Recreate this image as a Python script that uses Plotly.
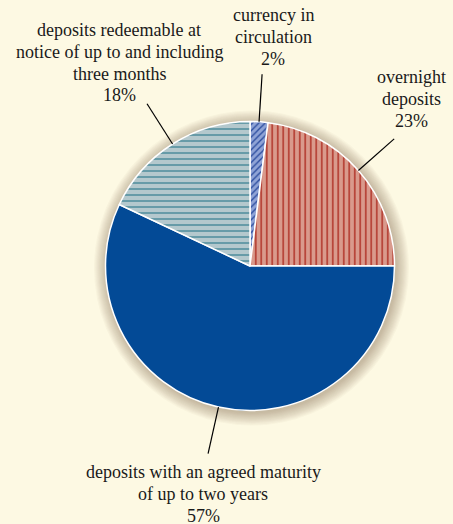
import math
import plotly.graph_objects as go

# ---- data ----
labels = ["currency in circulation", "overnight deposits",
          "deposits with an agreed maturity of up to two years",
          "deposits redeemable at notice of up to and including three months"]
values = [2, 23, 57, 18]
label_lines = [["currency in", "circulation", "2%"],
               ["overnight", "deposits", "23%"],
               ["deposits with an agreed maturity", "of up to two years", "57%"],
               ["deposits redeemable at", "notice of up to and including", "three months", "18%"]]
bg_colors = ["#8FA3D6", "#D99A8C", "#034A96", "#B4C8CD"]
fg_colors = ["#2B4C9E", "#B2362B", "#034A96", "#4D8C9C"]
shapes_pat = ["/", "|", "", "-"]

W, H = 453, 524
CX, CY, R = 250.0, 266.0, 144.5
BG = "#FDF9E3"
FONT = "Liberation Serif"
FS = 18
LINE_H = 21.8

# label block: centre x, first-line centre y (pixels) - layout only
label_pos = [(273, 15), (411, 77), (203, 472), (119, 30)]

fig = go.Figure()
fig.add_trace(go.Pie(
    labels=labels, values=values, sort=False, direction="clockwise", rotation=0,
    textinfo="none", hoverinfo="label+percent",
    marker=dict(colors=bg_colors, line=dict(color="white", width=1.5),
                pattern=dict(shape=shapes_pat, fgcolor=fg_colors, bgcolor=bg_colors,
                             fillmode="replace",
                             size=[4.5, 5.5, 8, 6], solidity=[0.3, 0.28, 0.3, 0.25])),
    domain=dict(x=[(CX - R) / W, (CX + R) / W], y=[1 - (CY + R) / H, 1 - (CY - R) / H]),
    showlegend=False,
))

def px(x, y):
    return x / W, 1 - y / H

shapes = []
# soft shadow glow behind pie
for i in range(12):
    rr = R + 13 - i * 1.1
    ox, oy = 1.5, 2
    x0, y0 = px(CX + ox - rr, CY + oy + rr)
    x1, y1 = px(CX + ox + rr, CY + oy - rr)
    shapes.append(dict(type="circle", xref="paper", yref="paper", x0=x0, y0=y0, x1=x1, y1=y1,
                       fillcolor="rgba(100,95,70,0.035)", line=dict(width=0), layer="below"))

# leader lines from slice mid-angles
total = sum(values)
cum = 0
annotations = []
for v, lines, (lx, ly) in zip(values, label_lines, label_pos):
    mid = (cum + v / 2) / total * 2 * math.pi
    cum += v
    sx, sy = CX + R * math.sin(mid), CY - R * math.cos(mid)
    ex, ey = CX + R * 1.33 * math.sin(mid), CY - R * 1.33 * math.cos(mid)
    a0, b0 = px(sx, sy)
    a1, b1 = px(ex, ey)
    shapes.append(dict(type="line", xref="paper", yref="paper", x0=a0, y0=b0, x1=a1, y1=b1,
                       line=dict(color="black", width=1.2), layer="above"))
    for k, t in enumerate(lines):
        ax_, ay_ = px(lx, ly + k * LINE_H)
        annotations.append(dict(text=t, x=ax_, y=ay_, xref="paper", yref="paper",
                                showarrow=False, xanchor="center", yanchor="middle",
                                font=dict(family=FONT, size=FS, color="#1a1a1a")))

fig.update_layout(
    width=W, height=H, margin=dict(l=0, r=0, t=0, b=0),
    paper_bgcolor=BG, plot_bgcolor=BG,
    shapes=shapes, annotations=annotations,
)
fig.write_html("out.html", config={"displayModeBar": False},
               post_script="document.body.style.margin='0';document.body.style.background='%s';" % BG)
